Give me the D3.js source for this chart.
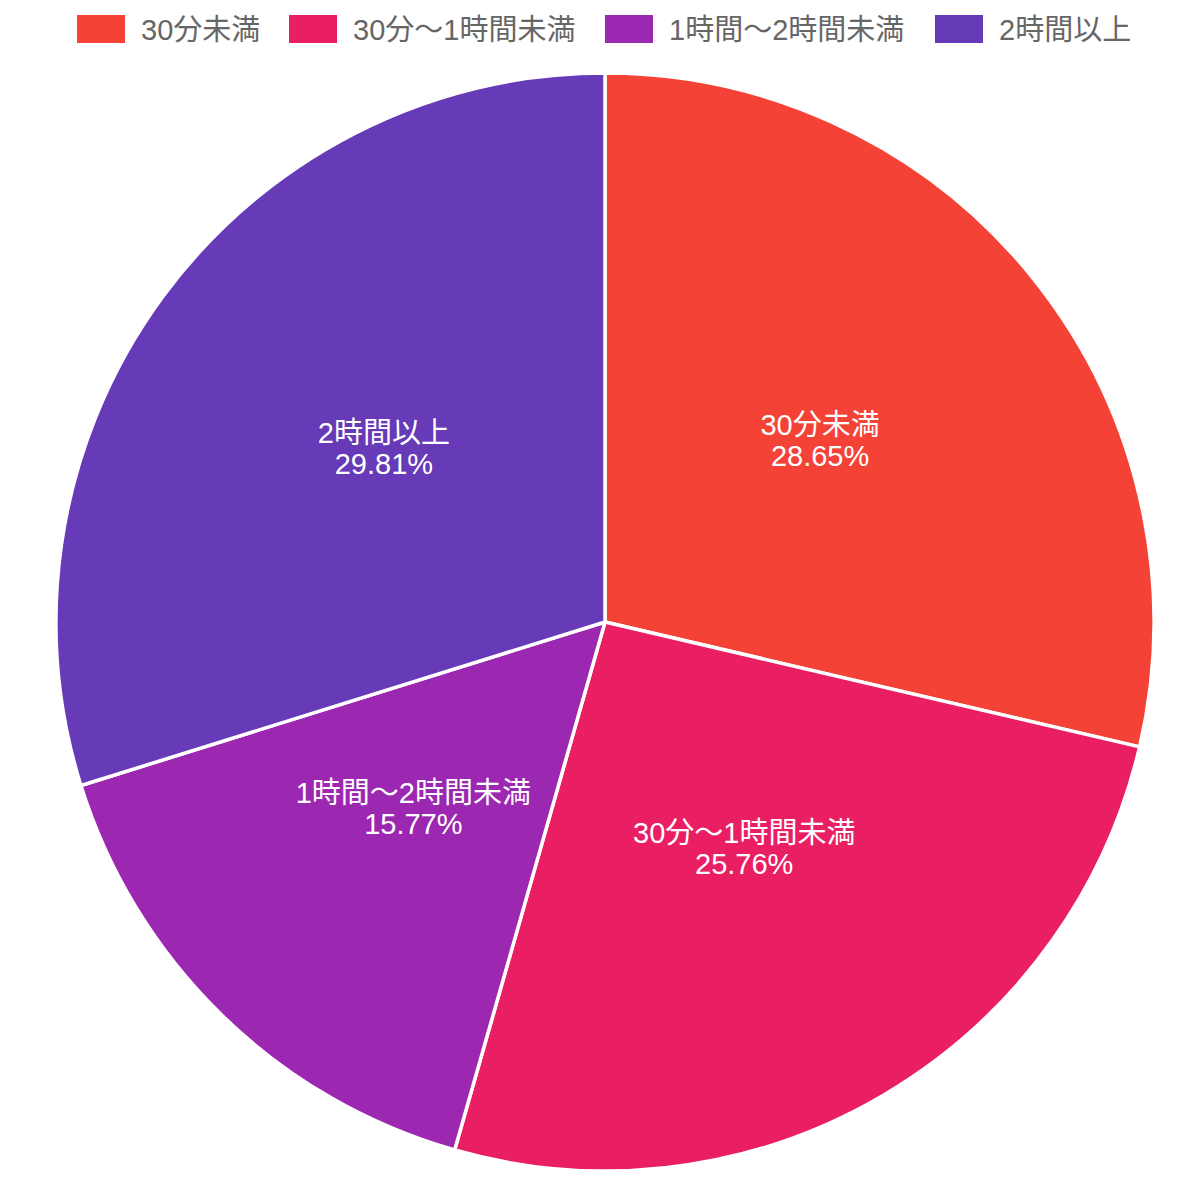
<!DOCTYPE html>
<html>
<head>
<meta charset="utf-8">
<script src="https://cdn.jsdelivr.net/npm/d3@7"></script>
<style>
  body { margin: 0; background: #fff; }
  svg { display: block; font-family: "Liberation Sans", Arial, "Noto Sans CJK JP", sans-serif; }
</style>
</head>
<body>
<div id="chart"></div>
<script>
// chart data
var categories = ['30分未満', '30分～1時間未満', '1時間～2時間未満', '2時間以上'];
var shares = [28.65, 25.76, 15.77, 29.81];
var colors = ['#f44336', '#e91e63', '#9c27b0', '#673ab7'];

var svgWidth = 1200;
var svgHeight = 1178;
var cx = 605, cy = 622, radius = 549;

var svg = d3.select('#chart')
    .append('svg')
    .attr('width', svgWidth)
    .attr('height', svgHeight);

var data = categories.map(function(c, i) {
    return { name: c, value: shares[i], color: colors[i] };
});

// legend along the top
var legendX = [77, 289, 605, 935];
var legend = svg.append('g').classed('legend', true);
legend.selectAll('rect')
    .data(data)
    .enter()
    .append('rect')
    .attr('x', function(d, i) { return legendX[i]; })
    .attr('y', 15)
    .attr('width', 48)
    .attr('height', 28)
    .attr('fill', d => d.color);
legend.selectAll('text')
    .data(data)
    .enter()
    .append('text')
    .attr('x', function(d, i) { return legendX[i] + 64; })
    .attr('y', 40)
    .attr('font-size', 29)
    .attr('fill', '#666')
    .text(d => d.name);

// pie
var pie = d3.pie()
    .sort(null)
    .value(d => d.value);

var arc = d3.arc()
    .innerRadius(0)
    .outerRadius(radius);

var labelArc = d3.arc()
    .innerRadius(radius * 0.5)
    .outerRadius(radius * 0.5);

var pieGroup = svg.append('g')
    .attr('transform', `translate(${cx},${cy})`);

var arcs = pie(data);

pieGroup.selectAll('path')
    .data(arcs)
    .enter()
    .append('path')
    .attr('d', arc)
    .attr('fill', d => d.data.color)
    .attr('stroke', '#fff')
    .attr('stroke-width', 3.5)
    .attr('stroke-linejoin', 'round');

// two text lines per slice: name and percentage
var labelGroups = pieGroup.selectAll('g.slice')
    .data(arcs)
    .enter()
    .append('g')
    .attr('class', 'slice')
    .attr('transform', d => `translate(${labelArc.centroid(d)})`)
    .attr('text-anchor', 'middle')
    .attr('fill', '#fff')
    .attr('font-size', 29);

labelGroups.append('text')
    .attr('y', -16)
    .text(d => d.data.name);
labelGroups.append('text')
    .attr('y', 15)
    .text(d => d.data.value.toFixed(2) + '%');
</script>
</body>
</html>
